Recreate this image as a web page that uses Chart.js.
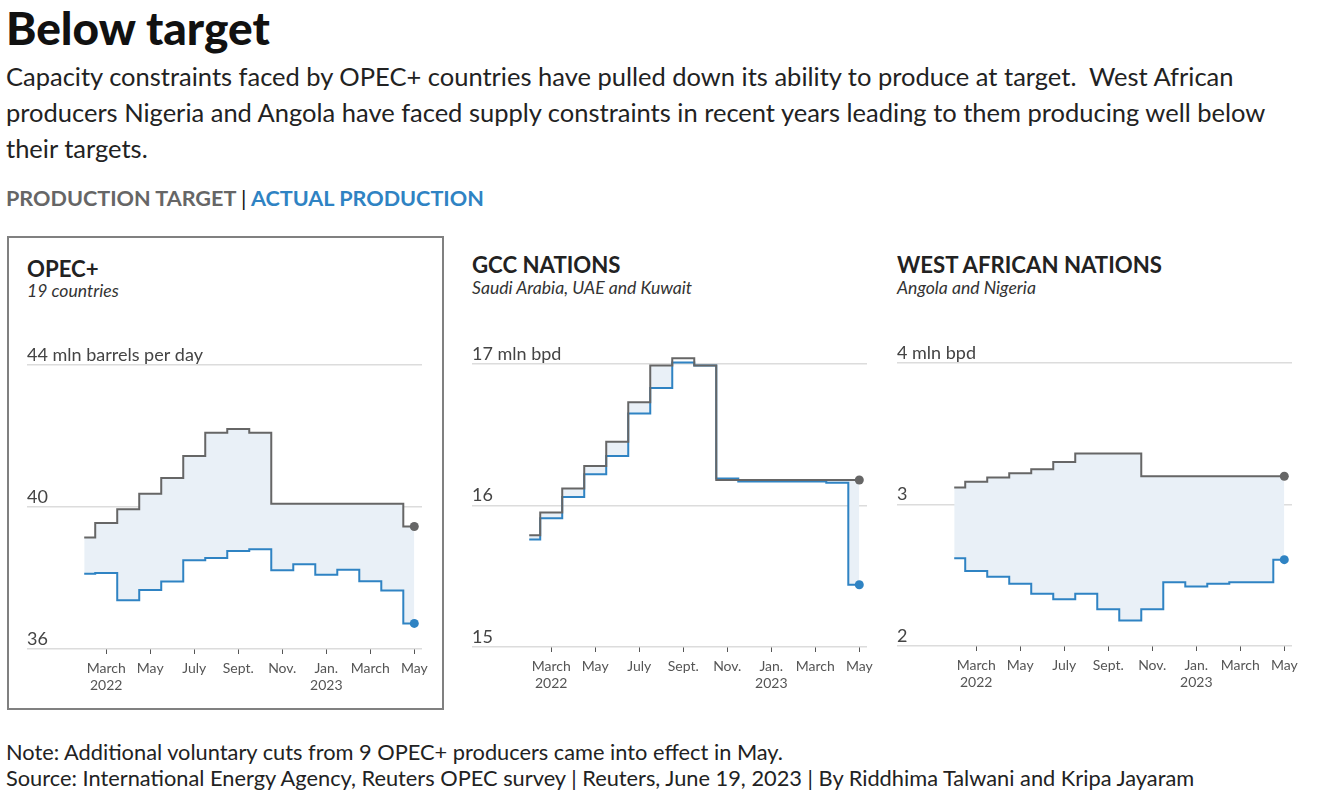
<!DOCTYPE html>
<html>
<head>
<meta charset="utf-8">
<script src="https://cdn.jsdelivr.net/npm/chart.js@4.4.0/dist/chart.umd.min.js"></script>
<style>
  body { margin: 0; background: #fff; width: 1320px; height: 800px; position: relative; overflow: hidden;
         font-family: Lato, "Noto Sans", sans-serif; color: #222; }
  .t { position: absolute; white-space: nowrap; line-height: 1; }
  #title { left: 6px; top: 5px; font-size: 46px; font-weight: 900; color: #111; }
  #sub { left: 6px; top: 58px; font-size: 25.5px; line-height: 36px; color: #222; }
  #legend { left: 6px; top: 188px; font-size: 21.6px; font-weight: 700; }
  #foot { left: 6px; top: 739px; font-size: 21.8px; line-height: 26px; color: #222; }
  .ph { font-size: 22.2px; font-weight: 700; color: #222; }
  .ps { font-size: 17.6px; font-style: italic; color: #333; }
  #box { position: absolute; left: 7px; top: 236px; width: 433px; height: 470px; border: 2px solid #808080; }
  canvas { position: absolute; }
</style>
</head>
<body>
<div id="title" class="t">Below target</div>
<div id="sub" class="t">Capacity constraints faced by OPEC+ countries have pulled down its ability to produce at target.&nbsp; West African<br>producers Nigeria and Angola have faced supply constraints in recent years leading to them producing well below<br>their targets.</div>
<div id="legend" class="t"><span style="color:#666">PRODUCTION TARGET</span> <span style="color:#111;font-weight:400">|</span> <span style="color:#2f83c3">ACTUAL PRODUCTION</span></div>
<div id="box"></div>
<div class="t ph" style="left:27px;top:258px">OPEC+</div>
<div class="t ps" style="left:27px;top:282px">19 countries</div>
<div class="t ph" style="left:472px;top:254px">GCC NATIONS</div>
<div class="t ps" style="left:472px;top:279px">Saudi Arabia, UAE and Kuwait</div>
<div class="t ph" style="left:897px;top:254px">WEST AFRICAN NATIONS</div>
<div class="t ps" style="left:897px;top:279px">Angola and Nigeria</div>
<canvas id="c1" width="420" height="375" style="left:17px;top:325px"></canvas>
<canvas id="c2" width="420" height="374" style="left:462px;top:324px"></canvas>
<canvas id="c3" width="420" height="374" style="left:887px;top:323px"></canvas>
<div id="foot" class="t">Note: Additional voluntary cuts from 9 OPEC+ producers came into effect in May.<br>Source: International Energy Agency, Reuters OPEC survey | Reuters, June 19, 2023 | By Riddhima Talwani and Kripa Jayaram</div>

<script>
// months Feb 2022 .. May 2023
const months = ['2022-02','2022-03','2022-04','2022-05','2022-06','2022-07','2022-08','2022-09','2022-10',
                '2022-11','2022-12','2023-01','2023-02','2023-03','2023-04','2023-05'];
const tickMonths = [1, 3, 5, 7, 9, 11, 13, 15];
const tickLabels = [['March', '2022'], ['May'], ['July'], ['Sept.'], ['Nov.'], ['Jan.', '2023'], ['March'], ['May']];

// OPEC+ (mln bpd)
const opecTarget = [39.14, 39.55, 39.94, 40.37, 40.82, 41.44, 42.09, 42.2, 42.09, 40.09, 40.09, 40.09, 40.09, 40.09, 40.09, 39.45];
const opecActual = [38.12, 38.14, 37.37, 37.66, 37.9, 38.5, 38.56, 38.76, 38.81, 38.22, 38.39, 38.09, 38.23, 37.91, 37.65, 36.72];
// GCC
const gccTarget = [15.79, 15.95, 16.12, 16.28, 16.45, 16.73, 16.99, 17.04, 16.99, 16.18, 16.18, 16.18, 16.18, 16.18, 16.18, 16.18];
const gccActual = [15.76, 15.91, 16.06, 16.22, 16.35, 16.65, 16.83, 17.01, 16.99, 16.19, 16.17, 16.17, 16.17, 16.17, 16.16, 15.44];
// West Africa
const waTarget = [3.12, 3.16, 3.19, 3.22, 3.25, 3.30, 3.36, 3.36, 3.36, 3.20, 3.20, 3.20, 3.20, 3.20, 3.20, 3.20];
const waActual = [2.62, 2.53, 2.49, 2.44, 2.37, 2.33, 2.37, 2.26, 2.18, 2.26, 2.45, 2.42, 2.44, 2.45, 2.45, 2.61];

const GRAY = '#666666';
const BLUE = '#2f83c3';

function pts(arr) {
  return arr.map((v, i) => ({ x: i, y: v }));
}

function makePanel(id, target, actual, yMin, yMax, yStep, unit) {
  const last = months.length - 1;
  const dot = ctx => ctx.dataIndex === last ? 4.5 : 0;
  new Chart(document.getElementById(id), {
    type: 'line',
    data: {
      datasets: [
        { label: 'Production target', data: pts(target), borderColor: GRAY, backgroundColor: GRAY,
          borderWidth: 2, stepped: 'middle', pointRadius: dot, pointBorderWidth: 0, fill: false, clip: 10 },
        { label: 'Actual production', data: pts(actual), borderColor: BLUE, backgroundColor: BLUE,
          borderWidth: 2, stepped: 'middle', pointRadius: dot, pointBorderWidth: 0, clip: 10,
          fill: { target: 0, above: '#e9f0f7', below: '#e9f0f7' } }
      ]
    },
    options: {
      responsive: false,
      animation: false,
      devicePixelRatio: 1,
      layout: { padding: { left: 10, right: 15, top: 40, bottom: 0 } },
      plugins: { legend: { display: false }, tooltip: { enabled: false } },
      scales: {
        x: {
          type: 'linear', min: -2.6, max: 15.35,
          afterBuildTicks: s => { s.ticks = tickMonths.map(v => ({ value: v })); },
          afterFit: s => { s.height = 51; },
          grid: { drawOnChartArea: false, drawTicks: true, tickLength: 5, color: '#555', lineWidth: 1 },
          border: { display: false },
          ticks: {
            autoSkip: false, maxRotation: 0, padding: 6, color: '#555',
            font: { family: 'Lato', size: 14 },
            callback: v => tickLabels[tickMonths.indexOf(v)]
          }
        },
        y: {
          min: yMin, max: yMax,
          afterBuildTicks: s => {
            const t = [];
            for (let v = yMin; v <= yMax + 1e-9; v += yStep) t.push({ value: v });
            s.ticks = t;
          },
          afterFit: s => { s.width = 0; },
          grid: { color: '#dcdcdc', lineWidth: 1.5, drawTicks: false },
          border: { display: false },
          ticks: {
            mirror: true, padding: 0, labelOffset: -10, color: '#444',
            font: { family: 'Lato', size: 18 },
            callback: v => v === yMax ? v + ' ' + unit : String(v)
          }
        }
      }
    }
  });
}

makePanel('c1', opecTarget, opecActual, 36, 44, 4, 'mln barrels per day');
makePanel('c2', gccTarget, gccActual, 15, 17, 1, 'mln bpd');
makePanel('c3', waTarget, waActual, 2, 4, 1, 'mln bpd');
</script>
</body>
</html>
